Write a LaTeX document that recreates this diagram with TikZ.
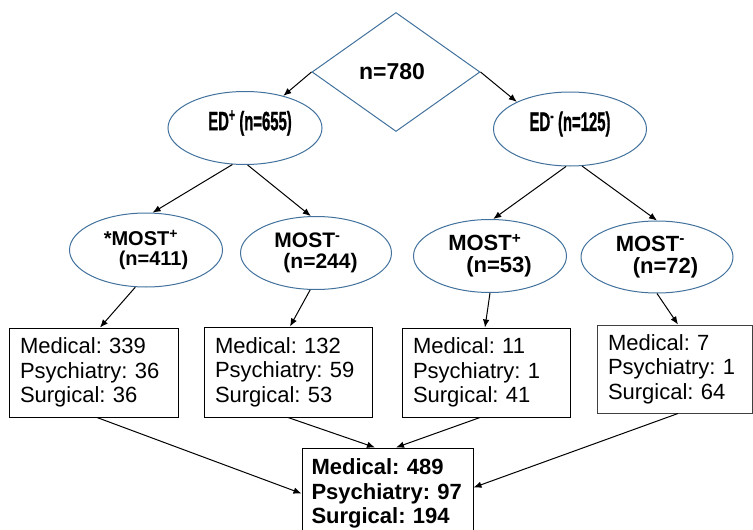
\documentclass[tikz,border=0pt]{standalone}
\usepackage{fontspec}
\usepackage{graphicx}
\setmainfont{Liberation Sans}
\newfontfamily\edfnt{Liberation Sans}[BoldFeatures={FakeBold=1.3}]
\frenchspacing
\usetikzlibrary{shapes.geometric,arrows.meta,calc}
\definecolor{outl}{RGB}{65,113,156}
\tikzset{
  ell/.style={ellipse,draw=outl,line width=1pt,inner sep=0pt,minimum width=153pt,minimum height=74pt,align=left},
  edfont/.style={font=\fontsize{26.5}{28}\edfnt\bfseries},
  mostfont/.style={font=\fontsize{#1}{#1}\selectfont\bfseries},
  box/.style={rectangle,draw=black,line width=1pt,inner xsep=11pt,inner ysep=0pt,align=left,font=\fontsize{22}{24.5}\selectfont},
  arr/.style={draw=black,line width=1pt,-{Latex[length=8pt,width=6.5pt]}},
}
\begin{document}
\begin{tikzpicture}[x=1pt,y=-1pt]
\useasboundingbox (0,0) rectangle (753,530);
% top
\node[diamond,draw=outl,line width=1pt,inner sep=0pt,minimum width=168pt,minimum height=119pt,font=\fontsize{23}{26}\selectfont\bfseries] (d) at (396,72) {\hspace*{-8pt}n=780};
% ED
\node[ell,minimum width=154pt,minimum height=73pt,edfont] (edp) at (245,128) {\hspace*{10pt}\raisebox{5pt}[\height][\depth]{\scalebox{0.56}[1]{ED\textsuperscript{+} (n=655)}}};
\node[ell,minimum width=153pt,minimum height=74pt,edfont] (edm) at (570,129) {\raisebox{5pt}[\height][\depth]{\scalebox{0.56}[1]{ED\textsuperscript{-} (n=125)}}};
% MOST
\node[ell,mostfont=20] (mp1) at (146,250) {*MOST\textsuperscript{+}\\\hspace*{15pt}(n=411)};
\node[ell,mostfont=21,minimum width=151pt,minimum height=73pt] (mm1) at (316,253) {MOST\textsuperscript{-}\\\hspace*{9pt}(n=244)};
\node[ell,mostfont=22,minimum height=73pt] (mp2) at (490,256) {MOST\textsuperscript{+}\\\hspace*{18pt}(n=53)};
\node[ell,mostfont=22,minimum width=152pt,minimum height=72pt] (mm2) at (657,257) {MOST\textsuperscript{-}\\\hspace*{17pt}(n=72)};
% boxes
\node[box,text width=147pt,minimum height=89pt] (b1) at (93.5,372.5) {Medical: 339\\Psychiatry: 36\\Surgical: 36};
\node[box,text width=146pt,minimum height=90pt] (b2) at (288,372) {Medical: 132\\Psychiatry: 59\\Surgical: 53};
\node[box,text width=146pt,minimum height=89pt] (b3) at (486,372.5) {Medical: 11\\Psychiatry: 1\\Surgical: 41};
\node[box,draw=black!75,text width=133pt,minimum height=88pt] (b4) at (674.5,369) {Medical: 7\\Psychiatry: 1\\Surgical: 64};
\node[box,inner xsep=9.5pt,text width=152pt,minimum height=91pt,font=\fontsize{22}{24.5}\selectfont\bfseries] (bb) at (387.5,493.5) {Medical: 489\\Psychiatry: 97\\Surgical: 194};
% arrows
\draw[arr] (d.west) -- (edp.40);
\draw[arr] (d.east) -- (edm.153);
\draw[arr] (edp.251) -- (mp1.80);
\draw[arr] (edp.274) -- (mm1.98);
\draw[arr] (edm.264) -- (mp2.85);
\draw[arr] (edm.288) -- (mm2.90);
\draw[arr] (mp1.254) -- ([xshift=6.5pt]b1.north);
\draw[arr] (mm1.261) -- ([xshift=2pt]b2.north);
\draw[arr] (mp2.south) -- ([xshift=-1pt]b3.north);
\draw[arr] (mm2.south) -- ([xshift=3.5pt]b4.north);
\draw[arr] ([xshift=3.5pt]b1.south) -- (bb.west);
\draw[arr] (b2.south) -- ([xshift=-12.5pt]bb.north);
\draw[arr] ([xshift=-6pt]b3.south) -- ([xshift=8.5pt]bb.north);
\draw[arr] ([xshift=3.5pt]b4.south) -- ([yshift=6pt]bb.east);
\end{tikzpicture}
\end{document}
